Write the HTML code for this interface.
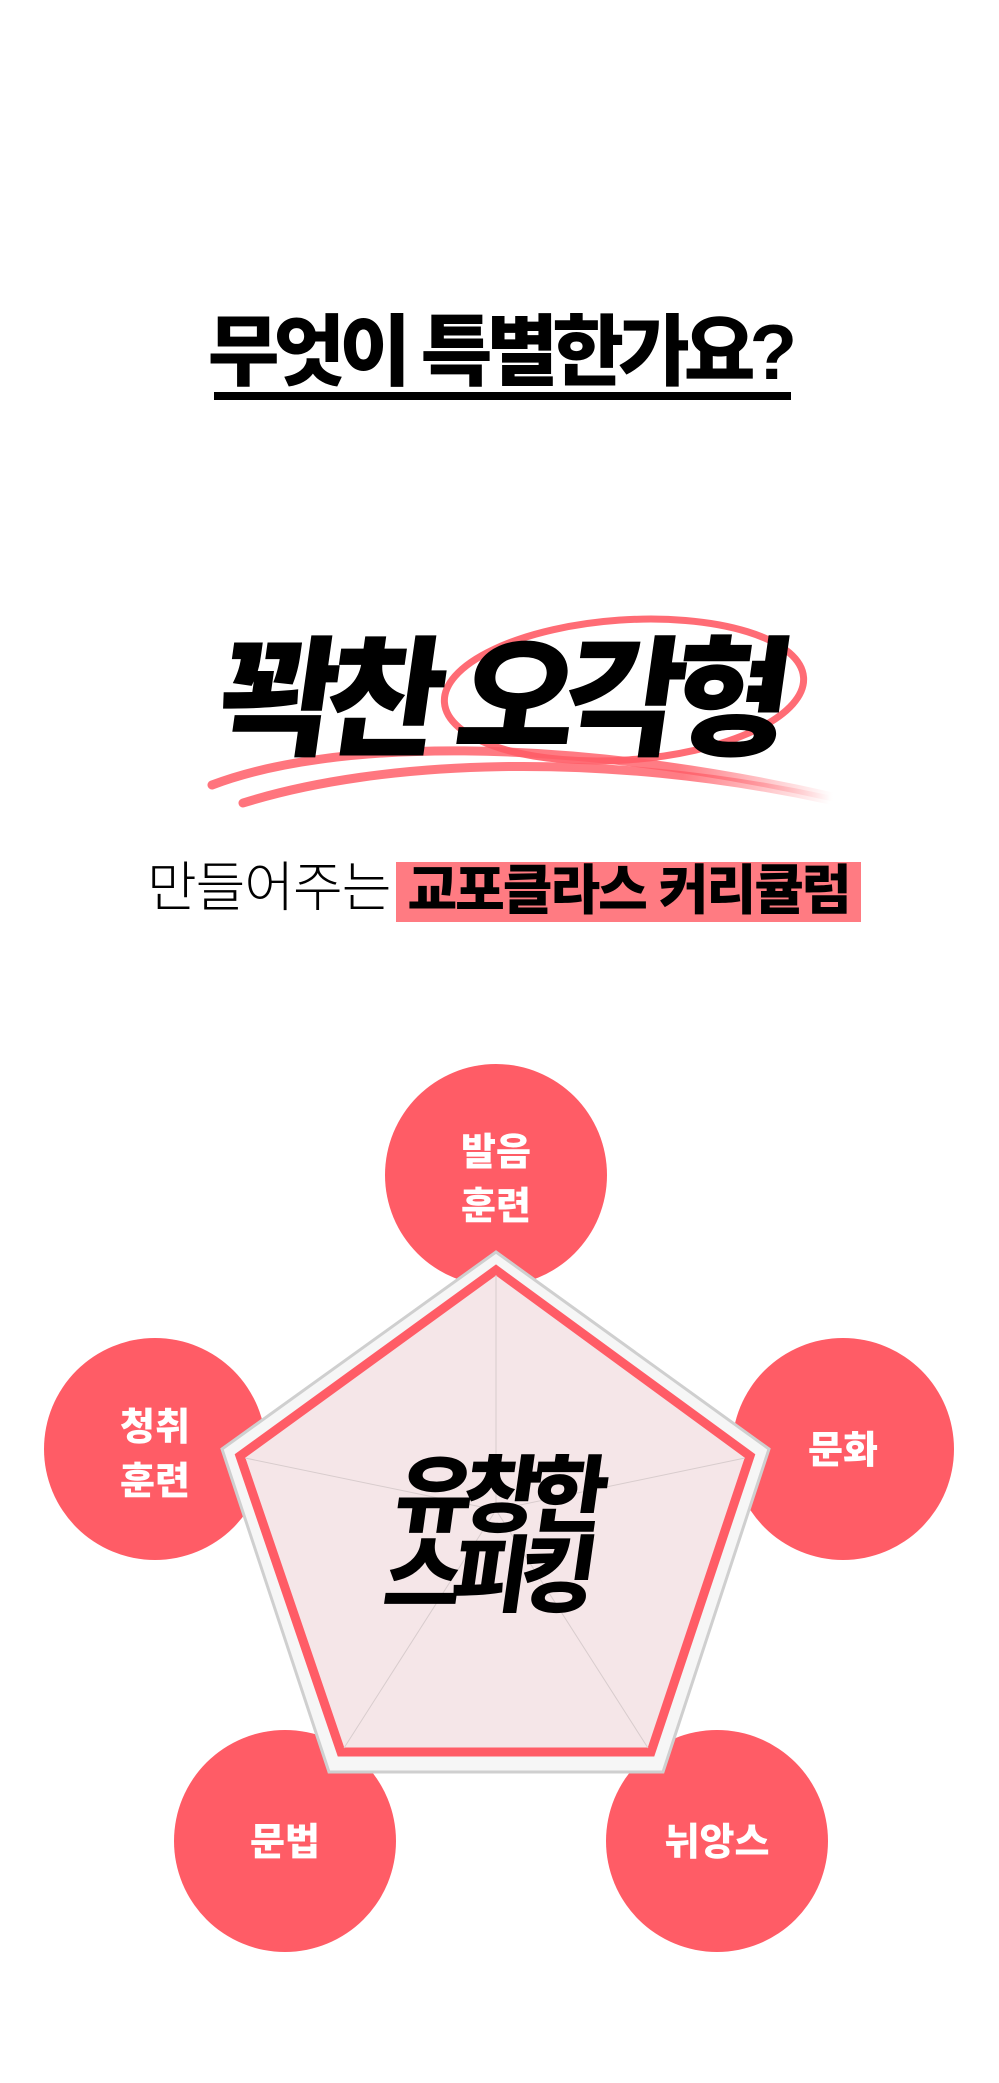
<!DOCTYPE html>
<html><head><meta charset="utf-8"><style>
html,body{margin:0;padding:0;background:#fff;}
body{width:999px;height:2083px;position:relative;overflow:hidden;font-family:"Liberation Sans","Noto Sans CJK KR",sans-serif;}
.abs{position:absolute;white-space:nowrap;}
</style></head><body>

<div class="abs" style="left:0;width:999px;top:302px;text-align:center;font-size:78px;font-weight:900;letter-spacing:-6px;line-height:100px;color:#000;">무엇이 특별한가요?</div>
<div class="abs" style="left:214px;width:577px;top:392px;height:8px;background:#000;"></div>

<svg class="abs" style="left:0;top:0" width="999" height="1000">
  <defs>
    <linearGradient id="fade" x1="0" x2="1" y1="0" y2="0">
      <stop offset="0" stop-color="#ff5c66" stop-opacity="0.85"/>
      <stop offset="0.75" stop-color="#ff5c66" stop-opacity="0.8"/>
      <stop offset="1" stop-color="#ff5c66" stop-opacity="0"/>
    </linearGradient>
  </defs>
  <ellipse cx="624" cy="690" rx="180" ry="70" transform="rotate(-4 624 690)" fill="none" stroke="#ff5c66" stroke-width="7" opacity="0.9"/>
  <path d="M212 785 C 330 740, 560 735, 833 797" fill="none" stroke="url(#fade)" stroke-width="9" stroke-linecap="round"/>
  <path d="M243 803 C 380 760, 600 750, 830 800" fill="none" stroke="url(#fade)" stroke-width="9" stroke-linecap="round"/>
</svg>

<div class="abs" style="left:0;width:999px;top:620px;text-align:center;font-size:130px;font-weight:900;letter-spacing:-12px;line-height:160px;color:#000;transform:skewX(-8deg);">꽉찬 오각형</div>

<div class="abs" style="left:147px;top:856px;font-size:54px;font-weight:300;letter-spacing:-1px;line-height:64px;color:#000;">만들어주는</div>
<div class="abs" style="left:396px;top:862px;width:465px;height:60px;background:#ff7b82;"></div>
<div class="abs" style="left:396px;width:465px;top:858px;text-align:center;font-size:54px;font-weight:900;letter-spacing:-2px;line-height:66px;color:#000;">교포클라스 커리큘럼</div>

<svg class="abs" style="left:0;top:1000px" width="999" height="1083">
  <g fill="#ff5c66">
    <circle cx="496" cy="175" r="111"/>
    <circle cx="155" cy="449" r="111"/>
    <circle cx="843" cy="449" r="111"/>
    <circle cx="285" cy="841" r="111"/>
    <circle cx="717" cy="841" r="111"/>
  </g>
  <polygon points="496,252 769,449 663,772 329,772 222,449" fill="#f6f6f6" stroke="#cfcfcf" stroke-width="3"/>
  <polygon points="496,270 750,456 651,752 341,752 240,456" fill="#f5e6e8" stroke="#ff5c66" stroke-width="9"/>
  <g stroke="#d8cccd" stroke-width="1">
    <line x1="496" y1="510" x2="496" y2="275"/>
    <line x1="496" y1="510" x2="745" y2="458"/>
    <line x1="496" y1="510" x2="648" y2="748"/>
    <line x1="496" y1="510" x2="344" y2="748"/>
    <line x1="496" y1="510" x2="245" y2="458"/>
  </g>
  <g fill="#fff" font-family="Liberation Sans, Noto Sans CJK KR, sans-serif" font-weight="900" font-size="38" text-anchor="middle">
    <text x="496" y="165">발음</text>
    <text x="496" y="219">훈련</text>
    <text x="155" y="440">청취</text>
    <text x="155" y="494">훈련</text>
    <text x="843" y="463">문화</text>
    <text x="285" y="855">문법</text>
    <text x="717" y="855">뉘앙스</text>
  </g>
</svg>

<div class="abs" style="left:-8px;width:999px;top:1456px;text-align:center;font-size:84px;font-weight:900;letter-spacing:-10px;line-height:80px;color:#000;transform:skewX(-8deg);">유창한<br>스피킹</div>

</body></html>
